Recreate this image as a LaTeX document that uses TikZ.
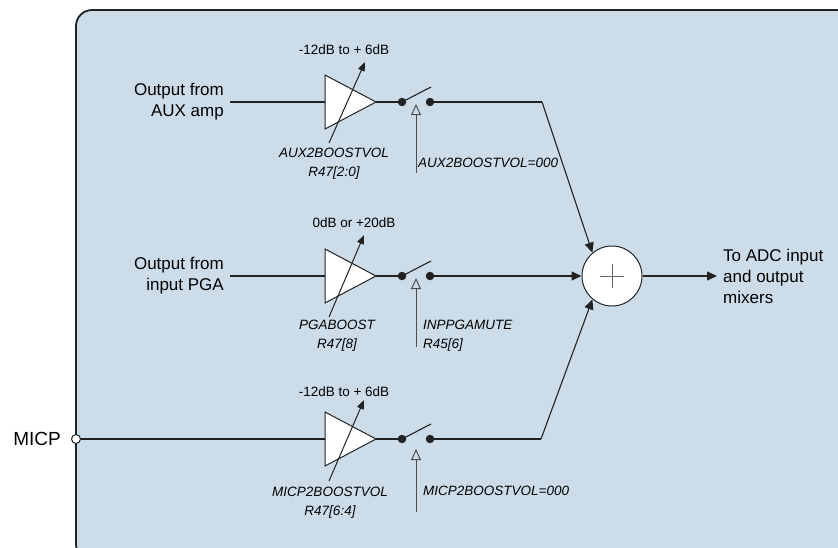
\documentclass[tikz,border=0pt]{standalone}
\usepackage{fontspec}
\setmainfont{Liberation Sans}
\usetikzlibrary{arrows.meta}
\definecolor{boxblue}{HTML}{CCDDE9}
\definecolor{ink}{HTML}{222222}
\tikzset{
  wire/.style={draw=ink, line width=1.1pt},
  amp/.style={draw=ink, fill=white, line width=1pt, line join=miter},
  gain/.style={draw=ink, line width=1pt, -{Triangle[length=9pt,width=7pt]}},
  ctrl/.style={draw=ink!80, line width=1pt, -{Triangle[open,length=11pt,width=10pt]}},
  sig/.style={draw=ink, line width=1.1pt, -{Triangle[length=10pt,width=9pt]}},
  big/.style={font=\fontsize{17}{21}\selectfont},
  small/.style={font=\fontsize{13.5}{19}\selectfont, inner sep=0pt},
  smallit/.style={font=\fontsize{13.5}{19}\selectfont\itshape, inner sep=0pt},
  contact/.style={circle, fill=ink, inner sep=0pt, minimum size=8.5pt},
}
\begin{document}
\begin{tikzpicture}[x=1pt,y=-1pt]
\useasboundingbox (0,0) rectangle (838,547);
\draw[fill=boxblue, draw=ink, line width=1.8pt, rounded corners=16pt] (76,10) rectangle (870,560);

% summing junction
\node[circle, draw=ink, fill=white, line width=1pt, minimum size=60pt, inner sep=0pt] (sum) at (612,276) {};
\draw[draw=ink!70, line width=1pt] (600,276) -- (624,276) (612,264) -- (612,288);
\coordinate (outend) at (717,276);
\draw[sig] (sum.east) -- (outend);
\node[big, anchor=west, align=left, inner sep=0pt] (outtxt) at (723,276) {To ADC input\\and output\\mixers};

% ---------- row 1 : AUX ----------
\node[big, anchor=east, align=right, inner sep=0pt] (auxin) at (224,102) {Output from\\AUX amp};
\coordinate (a0) at (230,102);
\coordinate (at1) at (325,75); \coordinate (at2) at (325,129); \coordinate (atip) at (376,102);
\coordinate (aleft) at (325,102);
\draw[wire] (a0) -- (aleft);
\draw[amp] (at1) -- (atip) -- (at2) -- cycle;
\node[contact] (ad1) at (402,102) {};
\node[contact] (ad2) at (430,102) {};
\draw[wire] (atip) -- (ad1);
\coordinate (alev) at (431,87);
\draw[wire] (ad1.center) -- (alev);
\coordinate (ag0) at (329,143); \coordinate (ag1) at (365,62);
\draw[gain] (ag0) -- (ag1);
\node[small] (agl) at (344,50) {-12dB to + 6dB};
\node[smallit, align=center] (agn) at (334,163.5) {AUX2BOOSTVOL\\R47[2:0]};
\coordinate (ac0) at (416,173); \coordinate (ac1) at (416,104);
\draw[ctrl] (ac0) -- (ac1);
\node[smallit, anchor=west] (acl) at (418,163) {AUX2BOOSTVOL=000};
\coordinate (abend) at (542,102);
\draw[wire] (ad2) -- (abend);
\draw[sig] (abend) -- (sum.130);

% ---------- row 2 : PGA ----------
\node[big, anchor=east, align=right, inner sep=0pt] (pgain) at (224,276) {Output from\\input PGA};
\coordinate (p0) at (230,276);
\coordinate (pt1) at (325,249); \coordinate (pt2) at (325,303); \coordinate (ptip) at (376,276);
\coordinate (pleft) at (325,276);
\draw[wire] (p0) -- (pleft);
\draw[amp] (pt1) -- (ptip) -- (pt2) -- cycle;
\node[contact] (pd1) at (402,276) {};
\node[contact] (pd2) at (430,276) {};
\draw[wire] (ptip) -- (pd1);
\coordinate (plev) at (431,261);
\draw[wire] (pd1.center) -- (plev);
\coordinate (pg0) at (329,317); \coordinate (pg1) at (364,235);
\draw[gain] (pg0) -- (pg1);
\node[small] (pgl) at (354,223) {0dB or +20dB};
\node[smallit, align=center] (pgn) at (337,335.5) {PGABOOST\\R47[8]};
\coordinate (pc0) at (416,347); \coordinate (pc1) at (416,278);
\draw[ctrl] (pc0) -- (pc1);
\node[smallit, anchor=west, align=left] (pcl) at (423,335.5) {INPPGAMUTE\\R45[6]};
\draw[sig] (pd2) -- (sum.west);

% ---------- row 3 : MICP ----------
\node[font=\fontsize{19}{23}\selectfont, anchor=east, inner sep=0pt] (micp) at (61,439) {MICP};
\node[circle, draw=ink, fill=white, line width=1pt, minimum size=9pt, inner sep=0pt] (mpin) at (76,439) {};
\coordinate (mt1) at (325,412); \coordinate (mt2) at (325,466); \coordinate (mtip) at (376,439);
\coordinate (mleft) at (325,439);
\draw[wire] (mpin) -- (mleft);
\draw[amp] (mt1) -- (mtip) -- (mt2) -- cycle;
\node[contact] (md1) at (402,439) {};
\node[contact] (md2) at (430,439) {};
\draw[wire] (mtip) -- (md1);
\coordinate (mlev) at (431,424);
\draw[wire] (md1.center) -- (mlev);
\coordinate (mg0) at (329,481); \coordinate (mg1) at (364,400);
\draw[gain] (mg0) -- (mg1);
\node[small] (mgl) at (344,392) {-12dB to + 6dB};
\node[smallit, align=center] (mgn) at (330,502.5) {MICP2BOOSTVOL\\R47[6:4]};
\coordinate (mc0) at (416,512); \coordinate (mc1) at (416,449);
\draw[ctrl] (mc0) -- (mc1);
\node[smallit, anchor=west] (mcl) at (423,491) {MICP2BOOSTVOL=000};
\coordinate (mbend) at (541,439);
\draw[wire] (md2) -- (mbend);
\draw[sig] (mbend) -- (sum.230);
\end{tikzpicture}
\end{document}
